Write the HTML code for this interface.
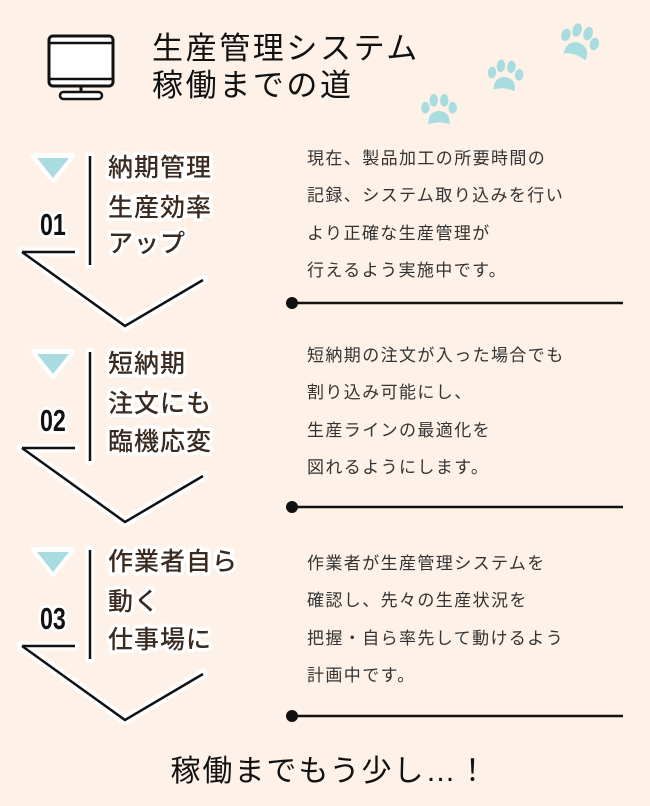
<!DOCTYPE html>
<html><head><meta charset="utf-8"><style>
html,body{margin:0;padding:0;background:#fdf1e8;}
svg{display:block;}
.t{font-family:"Liberation Sans","Noto Sans CJK JP",sans-serif;}
.h{font-size:25px;fill:#3a2a20;stroke:#fff;stroke-width:7px;paint-order:stroke;stroke-linejoin:round;font-weight:500;letter-spacing:1px;}
.n{font-size:31px;fill:#111;stroke:#fff;stroke-width:6px;paint-order:stroke;font-family:"Liberation Sans Narrow","Liberation Sans",sans-serif;font-weight:bold;}
.b{font-size:17px;fill:#333;letter-spacing:1.4px;}
</style></head><body>
<svg width="650" height="806" viewBox="0 0 650 806" xmlns="http://www.w3.org/2000/svg">
<rect width="650" height="806" fill="#fdf1e8"/>
<rect x="49" y="36" width="64" height="50" rx="4" fill="#fff" stroke="#111" stroke-width="3"/>
<line x1="49" y1="43" x2="113" y2="43" stroke="#111" stroke-width="2.5"/>
<line x1="49" y1="79" x2="113" y2="79" stroke="#111" stroke-width="2.5"/>
<line x1="81" y1="86" x2="81" y2="92" stroke="#111" stroke-width="3"/>
<rect x="60" y="92" width="42" height="7" rx="3.5" fill="#fff" stroke="#111" stroke-width="2.5"/>
<text class="t" x="152" y="59" font-size="31" fill="#111" letter-spacing="2.6">生産管理システム</text>
<text class="t" x="152" y="96" font-size="31" fill="#111" letter-spacing="2.6">稼働までの道</text>
<defs>
<g id="paw"><path d="M-10 10 Q-11 -2 0 -3 Q11 -2 10 10 Q0 6 -10 10 Z"/><ellipse cx="-13" cy="-6" rx="4" ry="5.5"/><ellipse cx="-5" cy="-13" rx="4" ry="6"/><ellipse cx="5" cy="-13" rx="4" ry="6"/><ellipse cx="13" cy="-6" rx="4" ry="5.5"/></g>
</defs>
<g fill="#a8dce0">
<use href="#paw" transform="translate(578,46) rotate(18) scale(1.15)"/>
<use href="#paw" transform="translate(505,80) rotate(5) scale(1.05)"/>
<use href="#paw" transform="translate(439,114) scale(1.05)"/>
</g>

<g id="s1">
<path d="M22 252 L125 326 L203 280" fill="none" stroke="#fff" stroke-width="10" stroke-linejoin="round" stroke-linecap="round"/>
<path d="M22 252 L75 252 M90 156 L90 265" stroke="#fff" stroke-width="9" stroke-linecap="round"/>
<path d="M22 252 L125 326 L203 280" fill="none" stroke="#111" stroke-width="2.5"/>
<path d="M22 252 L75 252 M90 156 L90 265" stroke="#111" stroke-width="2.5"/>
<path d="M34 156 L72 156 L53 180 Z" fill="#fff" stroke="#fff" stroke-width="6" stroke-linejoin="round"/>
<path d="M37 158 L69 158 L53 178 Z" fill="#a8dce0"/>
</g>
<use href="#s1" y="196"/>
<use href="#s1" y="394"/>
<text class="n" transform="translate(40,235) scale(0.75,1)">01</text>
<text class="n" transform="translate(40,431) scale(0.75,1)">02</text>
<text class="n" transform="translate(40,629) scale(0.75,1)">03</text>

<g class="t h">
<text x="108" y="176">納期管理</text><text x="108" y="216">生産効率</text><text x="108" y="252">アップ</text>
<text x="108" y="372">短納期</text><text x="108" y="412">注文にも</text><text x="108" y="450">臨機応変</text>
<text x="108" y="570">作業者自ら</text><text x="108" y="610">動く</text><text x="108" y="648">仕事場に</text>
</g>

<g class="t b">
<text x="307" y="164">現在、製品加工の所要時間の</text>
<text x="307" y="201">記録、システム取り込みを行い</text>
<text x="307" y="239">より正確な生産管理が</text>
<text x="307" y="276">行えるよう実施中です。</text>
<text x="307" y="361">短納期の注文が入った場合でも</text>
<text x="307" y="398">割り込み可能にし、</text>
<text x="307" y="436">生産ラインの最適化を</text>
<text x="307" y="473">図れるようにします。</text>
<text x="307" y="569">作業者が生産管理システムを</text>
<text x="307" y="606">確認し、先々の生産状況を</text>
<text x="307" y="644">把握・自ら率先して動けるよう</text>
<text x="307" y="681">計画中です。</text>
</g>

<g stroke="#111" stroke-width="2.5">
<line x1="292" y1="303" x2="623" y2="303"/>
<line x1="292" y1="507" x2="623" y2="507"/>
<line x1="292" y1="716" x2="623" y2="716"/>
</g>
<g fill="#111">
<circle cx="292" cy="303" r="6"/><circle cx="292" cy="507" r="6"/><circle cx="292" cy="716" r="6"/>
</g>

<text class="t" x="330" y="781" text-anchor="middle" font-size="30" fill="#111" letter-spacing="2">稼働までもう少し…！</text>
</svg>
</body></html>
